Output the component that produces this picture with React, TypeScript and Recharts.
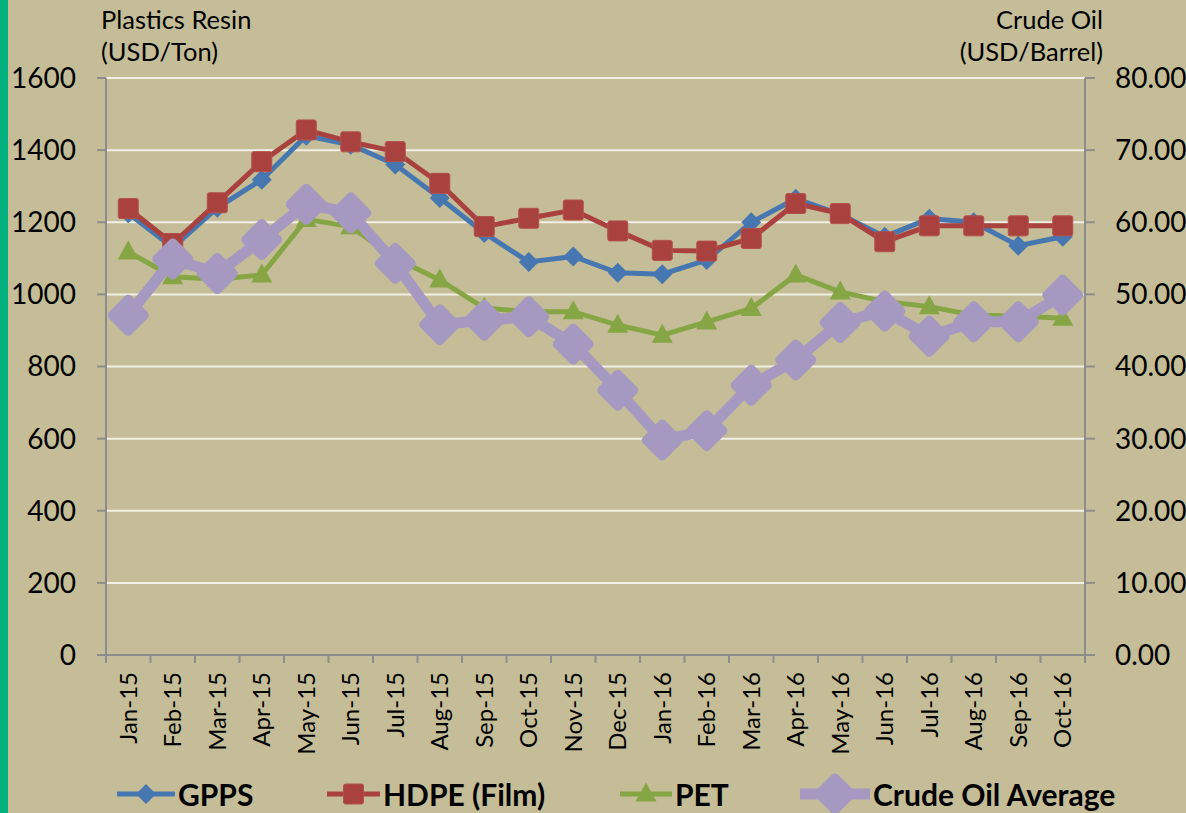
import React from 'react';
import { LineChart, Line, XAxis, YAxis, CartesianGrid, Legend } from 'recharts';

const months = ['Jan-15','Feb-15','Mar-15','Apr-15','May-15','Jun-15','Jul-15','Aug-15','Sep-15','Oct-15','Nov-15','Dec-15','Jan-16','Feb-16','Mar-16','Apr-16','May-16','Jun-16','Jul-16','Aug-16','Sep-16','Oct-16'];
const gpps = [1225,1130,1240,1318,1440,1415,1360,1267,1170,1090,1105,1060,1056,1095,1200,1265,1222,1160,1210,1200,1135,1160];
const hdpe = [1238,1141,1254,1368,1456,1423,1396,1308,1188,1211,1234,1176,1122,1120,1155,1252,1224,1146,1190,1190,1190,1190];
const pet = [1118,1049,1042,1054,1208,1188,1100,1040,962,952,952,915,887,924,961,1054,1007,980,966,942,940,934];
const crude = [47.1,54.9,52.9,57.6,62.5,61.3,54.3,45.8,46.4,46.9,43.1,36.7,29.8,31.1,37.4,40.9,46.1,47.7,44.2,46.2,46.2,49.9];
const leftTicks = [0,200,400,600,800,1000,1200,1400,1600];
const rightTicks = [0,10,20,30,40,50,60,70,80];

const data = months.map((m, i) => ({ month: m, gpps: gpps[i], hdpe: hdpe[i], pet: pet[i], crude: crude[i] }));

const W = 1186;
const H = 813;
const LEFT_W = 106;
const RIGHT_W = 101;
const BAND = (W - LEFT_W - RIGHT_W) / months.length;
const FONT = 'Lato, "Open Sans", sans-serif';

const BLUE = '#4677B0';
const RED = '#A9413F';
const GREEN = '#86A544';
const PURPLE = '#A699C1';
const AXIS = '#8C8C8C';
const GRID = '#F2F0E6';

const diamond = (cx: number, cy: number, r: number) => `M${cx},${cy - r} L${cx + r},${cy} L${cx},${cy + r} L${cx - r},${cy} Z`;
const triangle = (cx: number, cy: number, w: number, h: number) => `M${cx},${cy - h * 0.6} L${cx + w / 2},${cy + h * 0.4} L${cx - w / 2},${cy + h * 0.4} Z`;

const Marker = ({ kind, cx, cy }: { kind: string; cx: number; cy: number }) => {
  if (kind === 'gpps') return <path d={diamond(cx, cy, 10)} fill={BLUE} />;
  if (kind === 'hdpe') return <rect x={cx - 10} y={cy - 10} width={20} height={20} rx={2} fill={RED} stroke="#B5504C" strokeWidth={1} />;
  if (kind === 'pet') return <path d={triangle(cx, cy, 21, 19)} fill={GREEN} />;
  return <path d={diamond(cx, cy, 16)} fill={PURPLE} stroke={PURPLE} strokeWidth={9} strokeLinejoin="round" />;
};

const makeDot = (kind: string) => (props: any) => {
  const { cx, cy, index } = props;
  if (cx == null || cy == null) return <g key={`${kind}-${index}`} />;
  return <Marker key={`${kind}-${index}`} kind={kind} cx={cx} cy={cy} />;
};

const XTick = (props: any) => {
  const { x, y, payload, index } = props;
  const half = BAND / 2;
  return (
    <g>
      <line x1={x - half} y1={y} x2={x - half} y2={y + 8} stroke={AXIS} strokeWidth={2} />
      {index === months.length - 1 && <line x1={x + half} y1={y} x2={x + half} y2={y + 8} stroke={AXIS} strokeWidth={2} />}
      <text
        x={x}
        y={y + 17}
        transform={`rotate(-90, ${x}, ${y + 17})`}
        textAnchor="end"
        dy="0.36em"
        fontFamily={FONT}
        fontSize={24}
        fill="#000"
      >
        {payload.value}
      </text>
    </g>
  );
};

const legendItems = [
  { key: 'gpps', label: 'GPPS', color: BLUE, lw: 5, iw: 58, w: 210 },
  { key: 'hdpe', label: 'HDPE (Film)', color: RED, lw: 5, iw: 53, w: 293 },
  { key: 'pet', label: 'PET', color: GREEN, lw: 5, iw: 52, w: 180 },
  { key: 'crude', label: 'Crude Oil Average', color: PURPLE, lw: 11, iw: 70, w: 320 },
];

const LegendContent = () => (
  <div style={{ display: 'flex', alignItems: 'center', height: 38, paddingLeft: 117, fontFamily: FONT, fontWeight: 700, fontSize: 30, color: '#000', whiteSpace: 'nowrap' }}>
    {legendItems.map((it) => (
      <div key={it.key} style={{ display: 'flex', alignItems: 'center', width: it.w, flex: 'none' }}>
        <svg width={it.iw} height={38} style={{ overflow: 'visible', flex: 'none' }}>
          <line x1={0} y1={19} x2={it.iw} y2={19} stroke={it.color} strokeWidth={it.lw} />
          <Marker kind={it.key} cx={it.iw / 2} cy={19} />
        </svg>
        <span style={{ marginLeft: 3, lineHeight: '38px' }}>{it.label}</span>
      </div>
    ))}
  </div>
);

export default function App() {
  return (
    <div style={{ position: 'absolute', left: 0, top: 0, width: W, height: H, background: '#C4BD97', overflow: 'hidden' }}>
      <div style={{ position: 'absolute', left: 0, top: 0, width: 8, height: H, background: '#00B07C' }} />
      <div style={{ position: 'absolute', left: 101, top: 3, fontFamily: FONT, fontSize: 25.5, lineHeight: '32px', color: '#000' }}>
        Plastics Resin<br />(USD/Ton)
      </div>
      <div style={{ position: 'absolute', right: W - 1103, top: 3, fontFamily: FONT, fontSize: 25.5, lineHeight: '32px', color: '#000', textAlign: 'right' }}>
        Crude Oil<br />(USD/Barrel)
      </div>
      <LineChart width={W} height={H} data={data} margin={{ top: 78, right: 0, bottom: 0, left: 0 }} style={{ position: 'absolute', left: 0, top: 0 }}>
        <CartesianGrid vertical={false} stroke={GRID} strokeWidth={2} yAxisId="left" />
        <XAxis
          dataKey="month"
          interval={0}
          height={120}
          tickSize={0}
          tickMargin={0}
          tickLine={false}
          padding={{ left: BAND / 2, right: BAND / 2 }}
          tick={<XTick />}
          axisLine={{ stroke: AXIS, strokeWidth: 2 }}
        />
        <YAxis
          yAxisId="left"
          domain={[0, 1600]}
          ticks={leftTicks}
          width={LEFT_W}
          tickSize={9}
          tickMargin={21}
          axisLine={{ stroke: AXIS, strokeWidth: 2 }}
          tickLine={{ stroke: AXIS, strokeWidth: 2 }}
          tick={{ fontFamily: FONT, fontSize: 28, fill: '#000' }}
        />
        <YAxis
          yAxisId="right"
          orientation="right"
          domain={[0, 80]}
          ticks={rightTicks}
          width={RIGHT_W}
          tickSize={10}
          tickMargin={20}
          tickFormatter={(v: number) => v.toFixed(2)}
          axisLine={{ stroke: AXIS, strokeWidth: 2 }}
          tickLine={{ stroke: AXIS, strokeWidth: 2 }}
          tick={{ fontFamily: FONT, fontSize: 28, fill: '#000', textAnchor: 'start' }}
        />
        <Legend verticalAlign="bottom" height={38} content={<LegendContent />} wrapperStyle={{ left: 0, width: W, height: 38 }} />
        <Line yAxisId="left" dataKey="gpps" name="GPPS" stroke={BLUE} strokeWidth={5} dot={makeDot('gpps')} activeDot={false} isAnimationActive={false} />
        <Line yAxisId="left" dataKey="hdpe" name="HDPE (Film)" stroke={RED} strokeWidth={5} dot={makeDot('hdpe')} activeDot={false} isAnimationActive={false} />
        <Line yAxisId="left" dataKey="pet" name="PET" stroke={GREEN} strokeWidth={5} dot={makeDot('pet')} activeDot={false} isAnimationActive={false} />
        <Line yAxisId="right" dataKey="crude" name="Crude Oil Average" stroke={PURPLE} strokeWidth={11} dot={makeDot('crude')} activeDot={false} isAnimationActive={false} />
      </LineChart>
    </div>
  );
}
